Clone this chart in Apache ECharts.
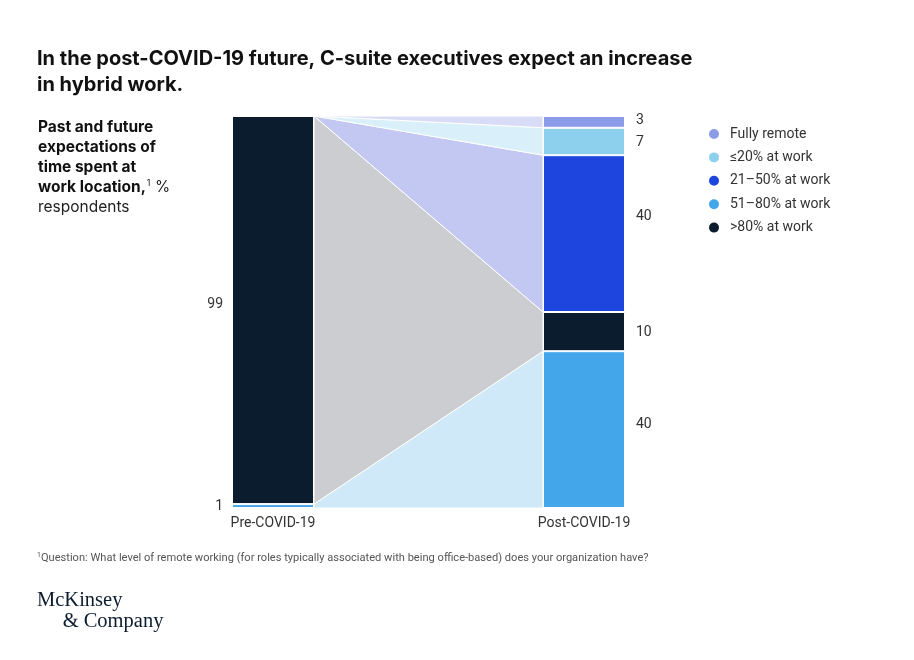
<!DOCTYPE html>
<html>
<head>
<meta charset="utf-8">
<script src="https://cdn.jsdelivr.net/npm/echarts@6/dist/echarts.min.js"></script>
<style>
html,body{margin:0;padding:0;background:#fff;}
#chart{width:914px;height:660px;}
</style>
</head>
<body>
<div id="chart"></div>
<script>
// ---- data ----
var periods = ['Pre-COVID-19', 'Post-COVID-19'];
// stack order, bottom to top
var categories = ['51–80% at work', '>80% at work', '21–50% at work', '≤20% at work', 'Fully remote'];
var preValues  = [1, 99, 0, 0, 0];
var postValues = [40, 10, 40, 7, 3];
var legendOrder = ['Fully remote', '≤20% at work', '21–50% at work', '51–80% at work', '>80% at work'];

// ---- styles ----
var barColors  = ['#43a6ea', '#0b1c2e', '#1f45df', '#8dd0ee', '#8b9be8'];
var flowColors = ['#d0e9f9', '#cbcdd0', '#c3c8f3', '#d9f0fa', '#d8dcf7'];
var labelOffsetY = { pre: [0, -6, 0, 0, 0], post: [-5, 1, -17, 1, -1] };
var FONT = 'Roboto, "Liberation Sans", sans-serif';
var HEAD_FONT = 'Inter, Roboto, sans-serif';
var BAR_W = 82;

// cumulative bands
function bands(vals) {
  var out = [], acc = 0;
  for (var i = 0; i < vals.length; i++) { out.push([acc, acc + vals[i]]); acc += vals[i]; }
  return out;
}
var preBands = bands(preValues);
var postBands = bands(postValues);

var series = [];
// flows
series.push({
  type: 'custom',
  name: 'flows',
  coordinateSystem: 'cartesian2d',
  silent: true,
  z: 1,
  clip: false,
  data: categories.map(function (c, i) { return [0, 0, i]; }),
  renderItem: function (params, api) {
    var i = params.dataIndex;
    var pb = preBands[i], qb = postBands[i];
    var l0 = api.coord([0, pb[0]]), l1 = api.coord([0, pb[1]]);
    var r0 = api.coord([1, qb[0]]), r1 = api.coord([1, qb[1]]);
    var lx = l0[0] + BAR_W / 2, rx = r0[0] - BAR_W / 2;
    return {
      type: 'polygon',
      shape: { points: [[lx, l0[1]], [lx, l1[1]], [rx, r1[1]], [rx, r0[1]]] },
      style: { fill: flowColors[i], stroke: '#ffffff', lineWidth: 1 }
    };
  }
});
// bars
categories.forEach(function (c, i) {
  var vals = [preValues[i], postValues[i]];
  series.push({
    type: 'bar',
    name: c,
    stack: 'total',
    barWidth: BAR_W,
    z: 2,
    itemStyle: { color: barColors[i], borderColor: '#ffffff', borderWidth: 1 },
    data: vals.map(function (v, k) {
      if (!v) return '-';
      var right = k === 1;
      return {
        value: v,
        label: {
          show: true,
          position: right ? 'right' : 'left',
          distance: right ? 11 : 9,
          offset: [0, right ? labelOffsetY.post[i] : labelOffsetY.pre[i]],
          color: '#333333',
          fontFamily: FONT,
          fontSize: 14
        }
      };
    })
  });
});

var chart = echarts.init(document.getElementById('chart'), null, { renderer: 'canvas' });
chart.setOption({
  backgroundColor: '#ffffff',
  animation: false,
  textStyle: { fontFamily: FONT },
  grid: { left: 117.5, width: 622, top: 116, bottom: 152, containLabel: false },
  xAxis: {
    type: 'category',
    data: periods,
    axisLine: { show: false },
    axisTick: { show: false },
    axisLabel: { color: '#333333', fontSize: 14, fontFamily: FONT, margin: 8 }
  },
  yAxis: { type: 'value', min: 0, max: 100, show: false },
  legend: {
    data: legendOrder,
    orient: 'vertical',
    left: 707,
    top: 127,
    padding: 0,
    icon: 'circle',
    itemWidth: 22,
    itemHeight: 12,
    itemGap: 9.4,
    selectedMode: false,
    textStyle: { color: '#333333', fontSize: 14, fontFamily: FONT }
  },
  graphic: [
    {
      type: 'text', left: 37, top: 46,
      style: {
        text: 'In the post-COVID-19 future, C-suite executives expect an increase\nin hybrid work.',
        fontFamily: HEAD_FONT, fontSize: 20, fontWeight: 'bold', fill: '#111111', lineHeight: 26
      }
    },
    {
      type: 'text', left: 38, top: 119.5,
      style: {
        text: '{b|Past and future}\n{b|expectations of}\n{b|time spent at}\n{b|work location,}{s|1}{r| %}\n{r|respondents}',
        rich: {
          b: { fontFamily: HEAD_FONT, fontSize: 15.5, fontWeight: 'bold', fill: '#111111', lineHeight: 20 },
          r: { fontFamily: HEAD_FONT, fontSize: 15.5, fill: '#222222', lineHeight: 20 },
          s: { fontFamily: HEAD_FONT, fontSize: 9, fill: '#222222', lineHeight: 20, padding: [0, 0, 9, 1] }
        }
      }
    },
    {
      type: 'text', left: 37, top: 552,
      style: {
        text: '{s|1}{t|Question: What level of remote working (for roles typically associated with being office-based) does your organization have?}',
        rich: {
          s: { fontFamily: FONT, fontSize: 7, fill: '#555555', padding: [0, 0, 5, 0] },
          t: { fontFamily: FONT, fontSize: 11.1, fill: '#555555' }
        }
      }
    },
    {
      type: 'text', left: 37, top: 590,
      style: {
        text: 'McKinsey\n     & Company',
        fontFamily: '"Liberation Serif", "DejaVu Serif", serif', fontSize: 20.5, fill: '#0b1c2e', lineHeight: 21
      }
    }
  ],
  series: series
});
</script>
</body>
</html>
